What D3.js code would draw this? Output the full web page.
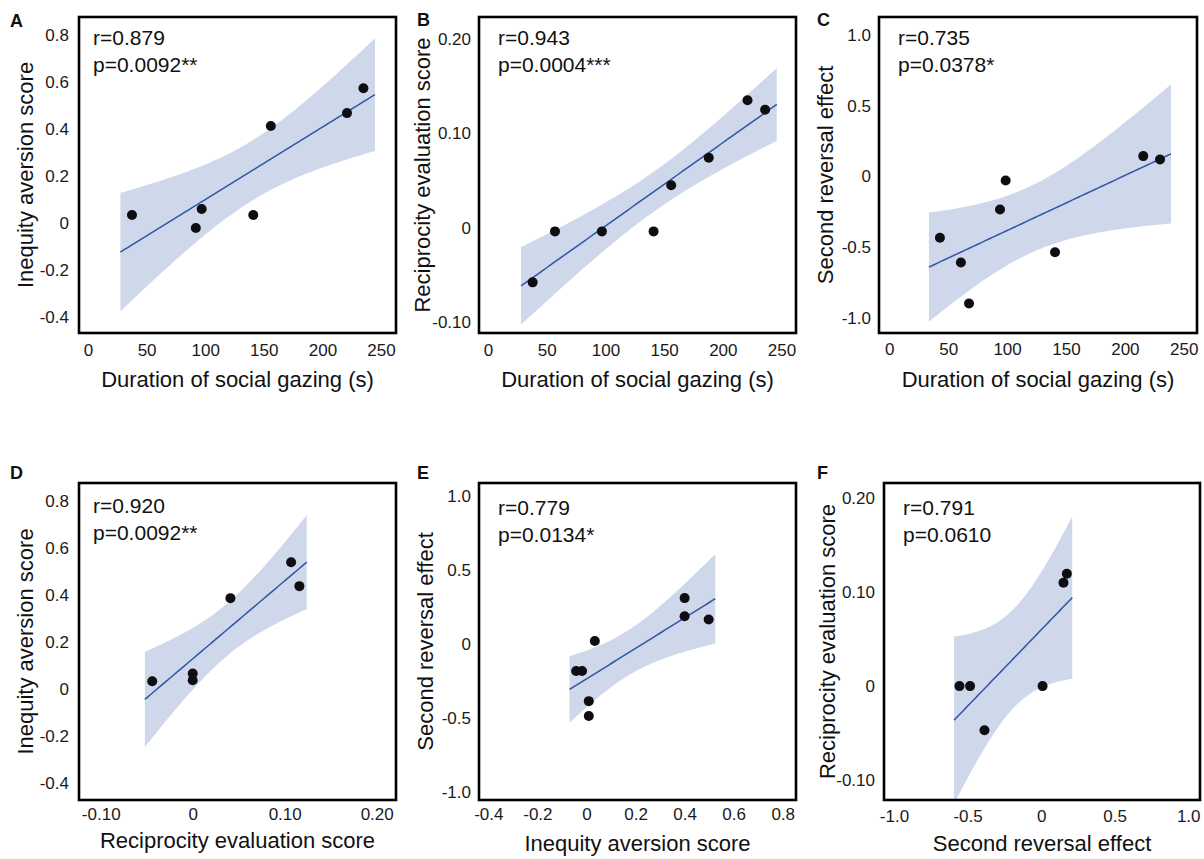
<!DOCTYPE html>
<html>
<head>
<meta charset="utf-8">
<script src="https://cdn.jsdelivr.net/npm/d3@7"></script>
<style>
  body { margin: 0; background: #fff; }
  text { font-family: "Liberation Sans", Arial, sans-serif; fill: #111; }
</style>
</head>
<body>
<svg id="fig" width="1204" height="859"></svg>
<script>
// ---- data ----
// A: gazing duration vs inequity aversion
var gazeA = [37.5, 92, 97, 141, 156, 221, 235];
var ineqA = [0.034, -0.021, 0.06, 0.034, 0.413, 0.468, 0.574];
// B: gazing duration vs reciprocity evaluation
var gazeB = [38, 57, 97, 141, 156, 188, 221, 236];
var recipB = [-0.058, -0.004, -0.004, -0.004, 0.045, 0.074, 0.135, 0.125];
// C: gazing duration vs second reversal effect
var gazeC = [43, 60.8, 67.7, 94, 98.8, 140.7, 215.6, 229.8];
var revC = [-0.433, -0.608, -0.898, -0.233, -0.028, -0.535, 0.144, 0.12];
// D: reciprocity evaluation vs inequity aversion
var recipD = [-0.044, 0, 0, 0.041, 0.107, 0.116];
var ineqD = [0.034, 0.067, 0.038, 0.387, 0.54, 0.438];
// E: inequity aversion vs second reversal effect
var ineqE = [-0.042, -0.018, 0.034, 0.0095, 0.0095, 0.40, 0.40, 0.498];
var revE = [-0.185, -0.185, 0.018, -0.388, -0.489, 0.308, 0.186, 0.164];
// F: second reversal effect vs reciprocity evaluation
var revF = [-0.555, -0.483, -0.385, 0.01, 0.152, 0.175];
var recipF = [0, 0, -0.047, 0, 0.110, 0.1197];

// tick values + labels
var gazeTicks = [0, 50, 100, 150, 200, 250];
var gazeLabels = ["0", "50", "100", "150", "200", "250"];
var ineqTicks = [-0.4, -0.2, 0, 0.2, 0.4, 0.6, 0.8];
var ineqLabels = ["-0.4", "-0.2", "0", "0.2", "0.4", "0.6", "0.8"];
var recipTicks = [-0.10, 0, 0.10, 0.20];
var recipLabels = ["-0.10", "0", "0.10", "0.20"];
var revTicks = [-1.0, -0.5, 0, 0.5, 1.0];
var revLabels = ["-1.0", "-0.5", "0", "0.5", "1.0"];

var rLabels = ["r=0.879", "r=0.943", "r=0.735", "r=0.920", "r=0.779", "r=0.791"];
var pLabels = ["p=0.0092**", "p=0.0004***", "p=0.0378*", "p=0.0092**", "p=0.0134*", "p=0.0610"];

var gazeTitle = "Duration of social gazing (s)";
var ineqTitle = "Inequity aversion score";
var recipTitle = "Reciprocity evaluation score";
var revTitle = "Second reversal effect";

// t quantiles (0.975) by degrees of freedom
var tCrit = {4: 2.776, 5: 2.571, 6: 2.447};

// ---- layout of each panel ----
var panels = [
  {letter: "A", lx: 10, ly: 27, frame: [79, 17, 396, 333], xd: [-7.7, 262.8], yd: [-0.468, 0.877],
   xs: gazeA, ys: ineqA, xt: gazeTicks, xl: gazeLabels, yt: ineqTicks, yl: ineqLabels,
   xTitle: gazeTitle, yTitle: ineqTitle, ytx: 25, xtb: 387, ypad: 10, xpad: 11, ann: [93, 45, 72]},
  {letter: "B", lx: 417, ly: 26, frame: [479, 17, 796, 333], xd: [-7.7, 262.3], yd: [-0.1117, 0.2233],
   xs: gazeB, ys: recipB, xt: gazeTicks, xl: gazeLabels, yt: recipTicks, yl: recipLabels,
   xTitle: gazeTitle, yTitle: recipTitle, ytx: 422, xtb: 387, ypad: 8, xpad: 11, ann: [498, 45, 72]},
  {letter: "C", lx: 817, ly: 26, frame: [879, 17, 1197, 333], xd: [-8.7, 261.2], yd: [-1.106, 1.127],
   xs: gazeC, ys: revC, xt: gazeTicks, xl: gazeLabels, yt: revTicks, yl: revLabels,
   xTitle: gazeTitle, yTitle: revTitle, ytx: 825, xtb: 387, ypad: 8, xpad: 10, ann: [898, 45, 72]},
  {letter: "D", lx: 10, ly: 479, frame: [79, 483, 396, 800], xd: [-0.1236, 0.221], yd: [-0.471, 0.8765],
   xs: recipD, ys: ineqD, xt: recipTicks, xl: recipLabels, yt: ineqTicks, yl: ineqLabels,
   xTitle: recipTitle, yTitle: ineqTitle, ytx: 25, xtb: 848, ypad: 10, xpad: 8, ann: [93, 513, 540]},
  {letter: "E", lx: 417, ly: 479, frame: [479, 483, 796, 800], xd: [-0.438, 0.854], yd: [-1.056, 1.0858],
   xs: ineqE, ys: revE, xt: ineqTicks, xl: ineqLabels, yt: revTicks, yl: revLabels,
   xTitle: ineqTitle, yTitle: revTitle, ytx: 425, xtb: 851, ypad: 8, xpad: 8, ann: [498, 515, 542]},
  {letter: "F", lx: 817, ly: 479, frame: [884, 483, 1200, 800], xd: [-1.068, 1.08], yd: [-0.1213, 0.2163],
   xs: revF, ys: recipF, xt: revTicks, xl: revLabels, yt: recipTicks, yl: recipLabels,
   xTitle: revTitle, yTitle: recipTitle, ytx: 827, xtb: 851, ypad: 9, xpad: 10, ann: [903, 515, 542]}
];

var svg = d3.select("#fig");

// least squares fit + 95% confidence band of the mean
function fitLine(xs, ys) {
  var n = xs.length;
  var mx = d3.mean(xs), my = d3.mean(ys);
  var sxx = d3.sum(xs, function(v) { return (v - mx) * (v - mx); });
  var sxy = d3.sum(xs, function(v, i) { return (v - mx) * (ys[i] - my); });
  var b = sxy / sxx, a = my - b * mx;
  var sse = d3.sum(xs, function(v, i) { var e = ys[i] - (a + b * v); return e * e; });
  var s = Math.sqrt(sse / (n - 2));
  var ext = d3.extent(xs), pad = (ext[1] - ext[0]) * 0.05;
  var x0 = ext[0] - pad, x1 = ext[1] + pad;
  var pts = d3.range(61).map(function(k) {
    var x = x0 + (x1 - x0) * k / 60;
    var yh = a + b * x;
    var half = tCrit[n - 2] * s * Math.sqrt(1 / n + (x - mx) * (x - mx) / sxx);
    return {x: x, y: yh, lo: yh - half, hi: yh + half};
  });
  return pts;
}

panels.forEach(function(p, i) {
  var f = p.frame;
  var x = d3.scaleLinear().domain(p.xd).range([f[0], f[2]]);
  var y = d3.scaleLinear().domain(p.yd).range([f[3], f[1]]);
  var g = svg.append("g");

  var clipId = "clip" + p.letter;
  svg.append("clipPath").attr("id", clipId)
    .append("rect").attr("x", f[0]).attr("y", f[1])
    .attr("width", f[2] - f[0]).attr("height", f[3] - f[1]);

  var fit = fitLine(p.xs, p.ys);
  var plot = g.append("g").attr("clip-path", "url(#" + clipId + ")");

  plot.append("path")
    .datum(fit)
    .attr("d", d3.area().x(function(d) { return x(d.x); })
      .y0(function(d) { return y(d.lo); }).y1(function(d) { return y(d.hi); }))
    .attr("fill", "#cfd7ea");

  plot.append("path")
    .datum(fit)
    .attr("d", d3.line().x(function(d) { return x(d.x); }).y(function(d) { return y(d.y); }))
    .attr("fill", "none")
    .attr("stroke", "#2f55a6")
    .attr("stroke-width", 1.5);

  plot.selectAll("circle")
    .data(p.xs)
    .enter()
    .append("circle")
    .attr("cx", function(d) { return x(d); })
    .attr("cy", function(d, k) { return y(p.ys[k]); })
    .attr("r", 5)
    .attr("fill", "#0d0d12");

  // axes: labels only, no ticks or domain line
  var yAxis = g.append("g")
    .attr("transform", "translate(" + f[0] + ",0)")
    .call(d3.axisLeft(y).tickValues(p.yt).tickSize(0).tickPadding(p.ypad)
      .tickFormat(function(d, k) { return p.yl[k]; }));
  var xAxis = g.append("g")
    .attr("transform", "translate(0," + f[3] + ")")
    .call(d3.axisBottom(x).tickValues(p.xt).tickSize(0).tickPadding(p.xpad)
      .tickFormat(function(d, k) { return p.xl[k]; }));
  [yAxis, xAxis].forEach(function(ax) {
    ax.select(".domain").remove();
    ax.attr("font-family", null).attr("font-size", null);
    ax.selectAll("text").style("font-size", "17px").style("fill", "#1a1a1a");
  });

  // frame
  g.append("rect")
    .attr("x", f[0]).attr("y", f[1])
    .attr("width", f[2] - f[0]).attr("height", f[3] - f[1])
    .attr("fill", "none").attr("stroke", "#000").attr("stroke-width", 2.6);

  // axis titles
  g.append("text")
    .attr("x", (f[0] + f[2]) / 2).attr("y", p.xtb)
    .attr("text-anchor", "middle")
    .style("font-size", "22px")
    .text(p.xTitle);
  g.append("text")
    .attr("transform", "translate(" + p.ytx + "," + (f[1] + f[3]) / 2 + ") rotate(-90)")
    .attr("text-anchor", "middle")
    .attr("dominant-baseline", "central")
    .style("font-size", "22px")
    .text(p.yTitle);

  // r / p annotation
  g.append("text").attr("x", p.ann[0]).attr("y", p.ann[1])
    .style("font-size", "21px").text(rLabels[i]);
  g.append("text").attr("x", p.ann[0]).attr("y", p.ann[2])
    .style("font-size", "21px").text(pLabels[i]);

  // panel letter
  g.append("text").attr("x", p.lx).attr("y", p.ly)
    .style("font-size", "18px").style("font-weight", "bold")
    .text(p.letter);
});
</script>
</body>
</html>
